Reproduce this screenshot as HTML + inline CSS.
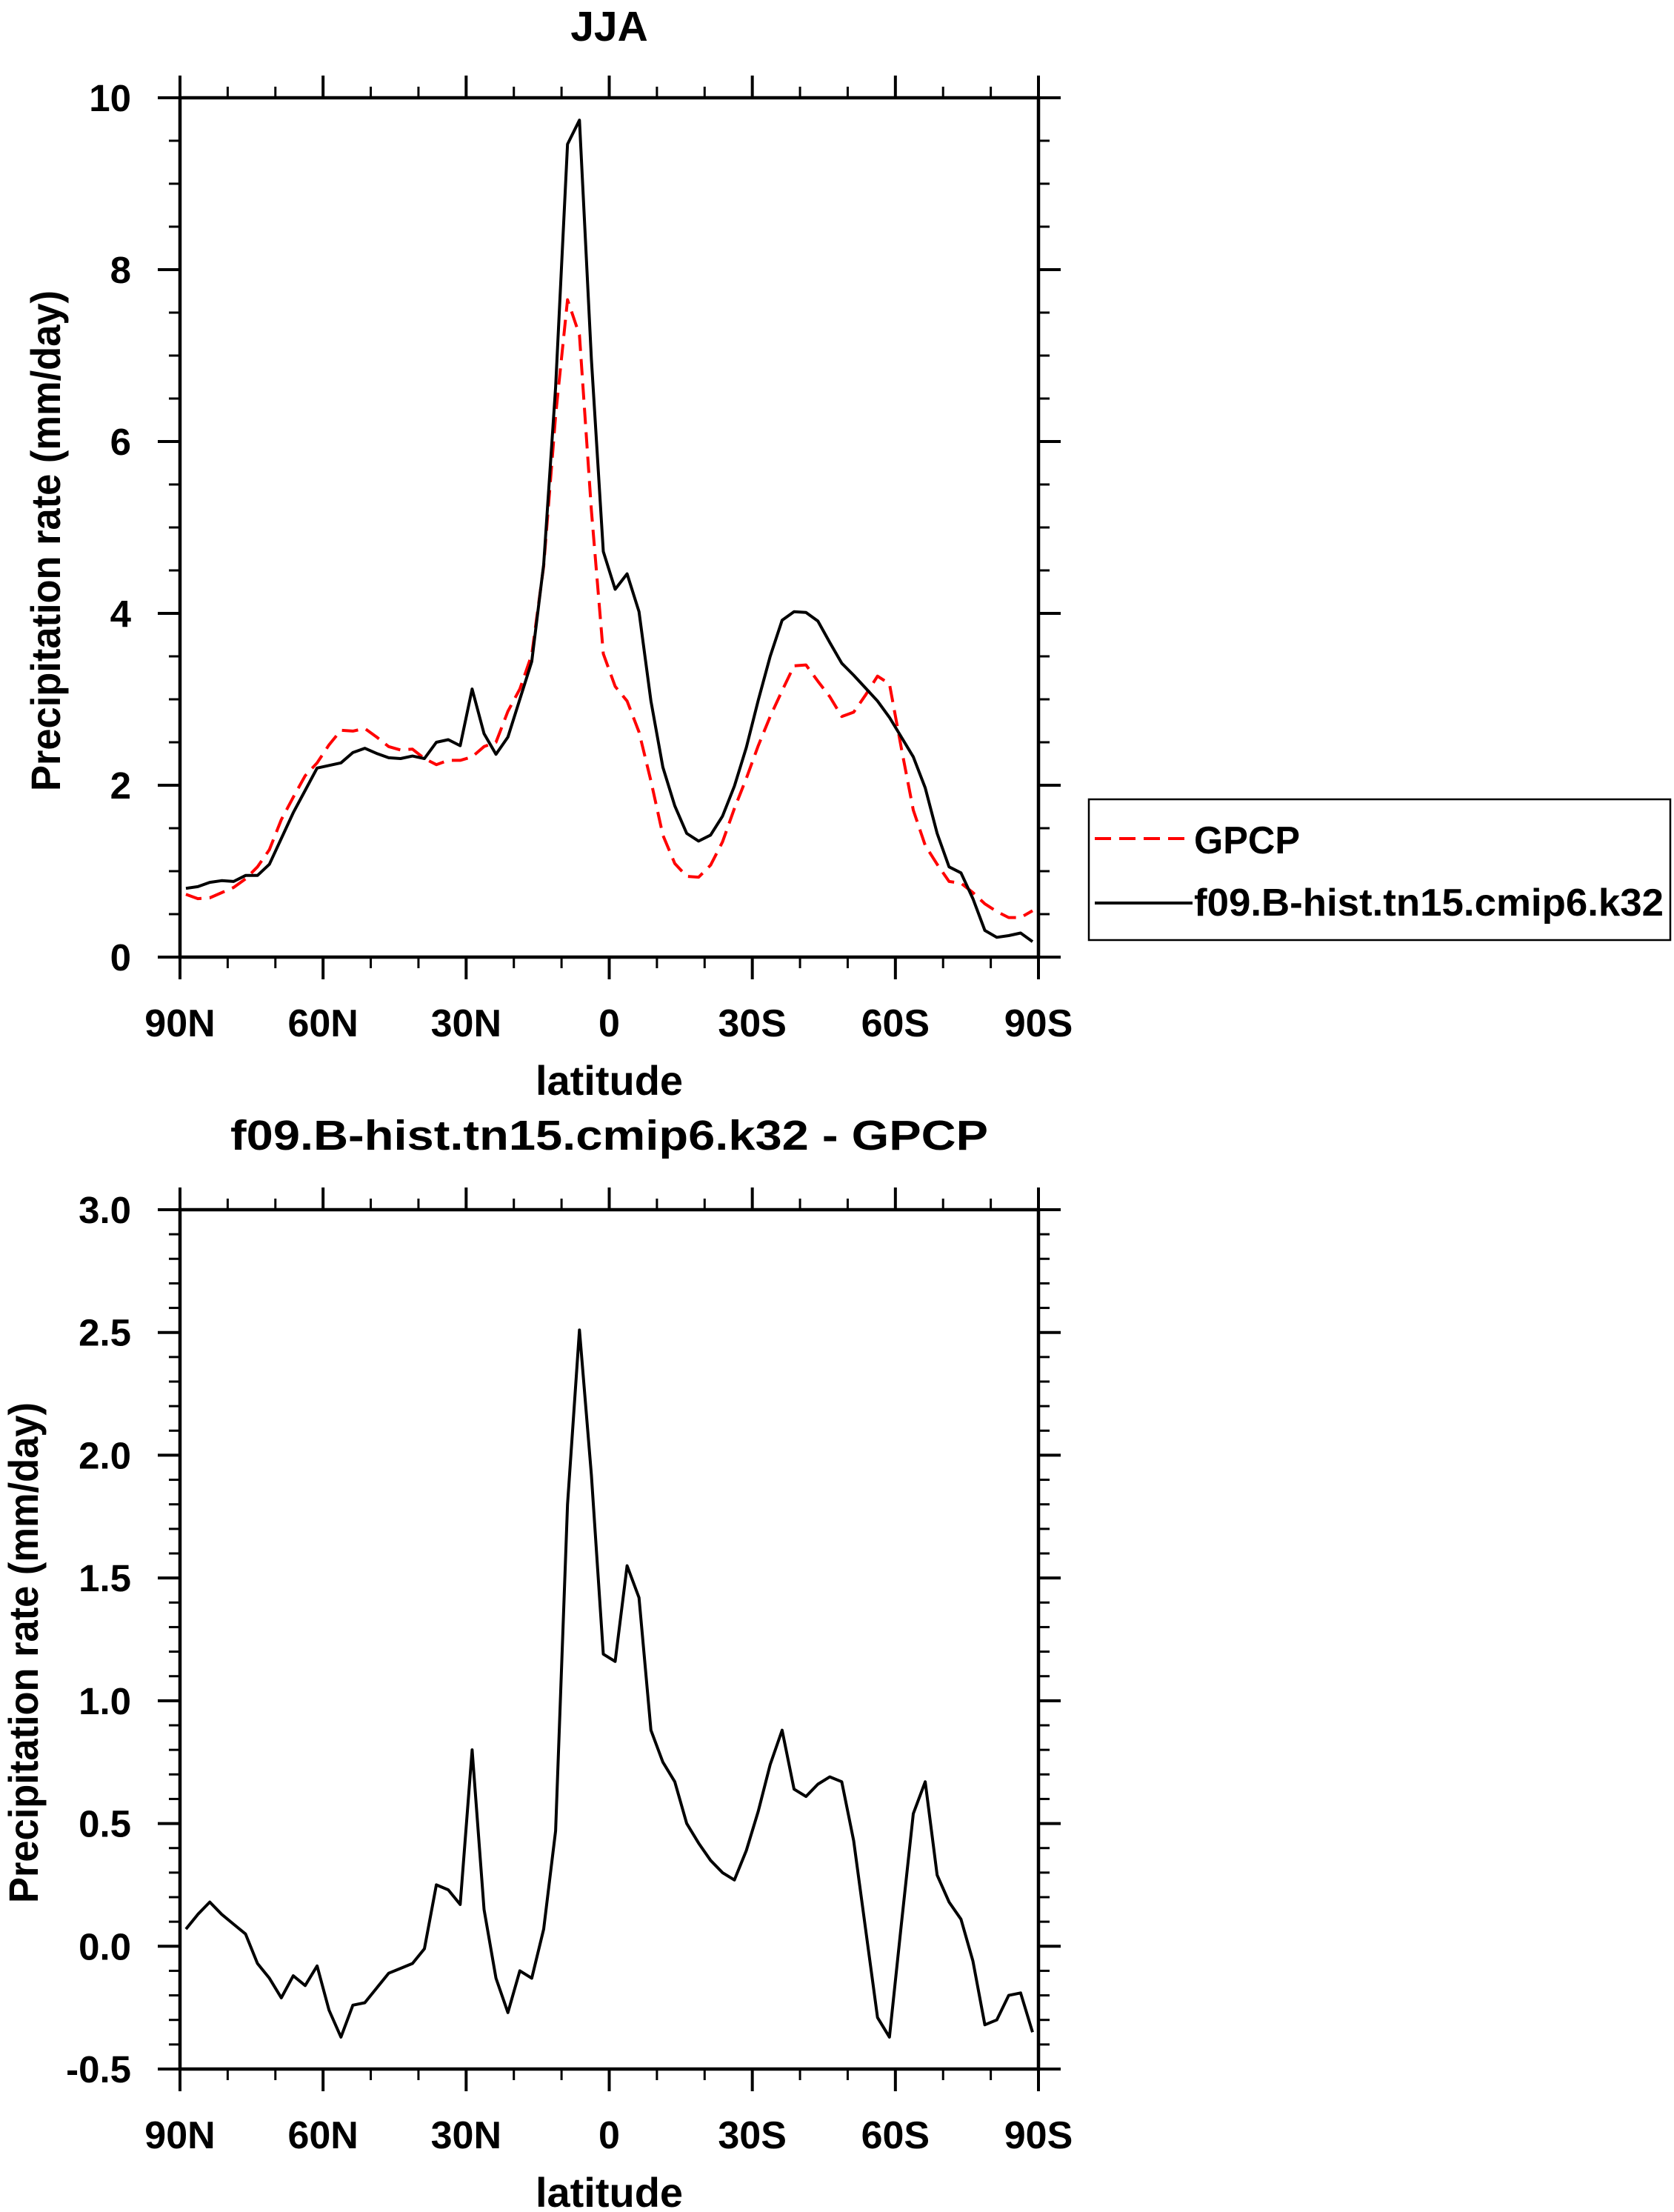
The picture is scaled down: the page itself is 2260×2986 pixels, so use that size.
<!DOCTYPE html>
<html><head><meta charset="utf-8"><style>
html,body{margin:0;padding:0;background:#fff;}
svg{display:block;}
text{font-family:"Liberation Sans",Arial,sans-serif;font-weight:bold;fill:#000;}
</style></head><body>
<svg id="fig" width="2260" height="2986" viewBox="0 0 2260 2986" xmlns="http://www.w3.org/2000/svg">
<g id="p1"></g>
<g id="p2"></g>
<g id="legend">
  <rect x="1470" y="1079" width="785" height="190" fill="none" stroke="#000" stroke-width="2.5"/>
  <line x1="1478" y1="1132" x2="1610" y2="1132" stroke="#ff0000" stroke-width="4" stroke-dasharray="22 11"/>
  <text x="1612" y="1152" font-size="52" textLength="143" lengthAdjust="spacingAndGlyphs">GPCP</text>
  <line x1="1478" y1="1219" x2="1610" y2="1219" stroke="#000" stroke-width="4"/>
  <text x="1612" y="1236" font-size="52" textLength="634" lengthAdjust="spacingAndGlyphs">f09.B-hist.tn15.cmip6.k32</text>
</g>
</svg>
<script>
// latitude of each grid point (deg, N positive), 72 points
const lats = [];
for (let i = 0; i < 72; i++) lats.push(88.75 - 2.5 * i);
const xTickVals = [90, 60, 30, 0, -30, -60, -90];
const xTickLabels = ["90N", "60N", "30N", "0", "30S", "60S", "90S"];
const modelPrecip = [0.80,0.82,0.87,0.89,0.88,0.95,0.95,1.08,1.38,1.68,1.94,2.20,2.23,2.26,2.38,2.43,2.37,2.32,2.31,2.34,2.31,2.50,2.53,2.46,3.12,2.60,2.36,2.56,3.00,3.44,4.57,6.63,9.46,9.74,6.96,4.72,4.28,4.46,4.02,2.98,2.21,1.76,1.44,1.35,1.42,1.64,1.99,2.44,2.99,3.50,3.92,4.02,4.01,3.91,3.66,3.42,3.28,3.13,2.98,2.79,2.56,2.33,1.97,1.44,1.05,0.98,0.68,0.31,0.23,0.25,0.28,0.18];
const gpcpPrecip = [0.73,0.68,0.69,0.75,0.81,0.91,1.05,1.25,1.60,1.86,2.11,2.26,2.47,2.64,2.63,2.66,2.56,2.45,2.41,2.42,2.31,2.24,2.29,2.29,2.33,2.45,2.50,2.86,3.12,3.52,4.55,6.30,7.65,7.24,5.20,3.53,3.15,2.98,2.62,2.05,1.42,1.09,0.94,0.93,1.07,1.34,1.73,2.08,2.46,2.80,3.10,3.39,3.40,3.21,3.03,2.80,2.85,3.05,3.27,3.18,2.43,1.71,1.30,1.08,0.88,0.86,0.75,0.62,0.53,0.46,0.46,0.54];
const diffPrecip = [0.07,0.13,0.18,0.13,0.09,0.05,-0.07,-0.13,-0.21,-0.12,-0.16,-0.08,-0.26,-0.37,-0.24,-0.23,-0.17,-0.11,-0.09,-0.07,-0.01,0.25,0.23,0.17,0.80,0.15,-0.13,-0.27,-0.10,-0.13,0.07,0.47,1.80,2.51,1.92,1.19,1.16,1.55,1.42,0.88,0.75,0.67,0.50,0.42,0.35,0.30,0.27,0.39,0.55,0.74,0.88,0.64,0.61,0.66,0.69,0.67,0.43,0.07,-0.29,-0.37,0.09,0.54,0.67,0.29,0.18,0.11,-0.06,-0.32,-0.30,-0.20,-0.19,-0.35];
const y1TickVals = [0, 2, 4, 6, 8, 10];
const y1TickLabels = ["0", "2", "4", "6", "8", "10"];
const y2TickVals = [-0.5, 0, 0.5, 1, 1.5, 2, 2.5, 3];
const y2TickLabels = ["-0.5", "0.0", "0.5", "1.0", "1.5", "2.0", "2.5", "3.0"];

const NS = "http://www.w3.org/2000/svg";
function mk(parent, tag, attrs, txt) {
  const e = document.createElementNS(NS, tag);
  for (const k in attrs) e.setAttribute(k, attrs[k]);
  if (txt !== undefined) e.textContent = txt;
  parent.appendChild(e);
  return e;
}
const L = 243, R = 1402;
function xs(lat) { return L + (90 - lat) / 180 * (R - L); }

function panel(g, top, bot, ymin, ymax, minorStep, yVals, yLabels, title, ytitleX, titleY, titleLen) {
  const ys = v => bot - (v - ymin) / (ymax - ymin) * (bot - top);
  for (let lat = 90; lat >= -90; lat -= 10) {
    const x = xs(lat);
    const major = lat % 30 === 0;
    const len = major ? 30 : 15;
    const t1 = mk(g, "line", {x1: x, y1: bot, x2: x, y2: bot + len, stroke: "#000", "stroke-width": major ? 4 : 3});
    
    
    const t2 = mk(g, "line", {x1: x, y1: top, x2: x, y2: top - len, stroke: "#000", "stroke-width": major ? 4 : 3});
    
    
  }
  const nMinor = Math.round((ymax - ymin) / minorStep);
  for (let k = 0; k <= nMinor; k++) {
    const v = ymin + k * minorStep;
    const y = ys(v);
    const t1 = mk(g, "line", {x1: L, y1: y, x2: L - 15, y2: y, stroke: "#000", "stroke-width": 3});
    
    
    const t2 = mk(g, "line", {x1: R, y1: y, x2: R + 15, y2: y, stroke: "#000", "stroke-width": 3});
    
    
  }
  yVals.forEach((v, i) => {
    const y = ys(v);
    const t1 = mk(g, "line", {x1: L, y1: y, x2: L - 30, y2: y, stroke: "#000", "stroke-width": 4});
    
    
    const t2 = mk(g, "line", {x1: R, y1: y, x2: R + 30, y2: y, stroke: "#000", "stroke-width": 4});
    
    
    const lab = mk(g, "text", {x: 177, y: y + 18, "font-size": 51, "text-anchor": "end"}, yLabels[i]);
    
    
  });
  xTickVals.forEach((v, i) => {
    const lab = mk(g, "text", {x: xs(v), y: bot + 107, "font-size": 52, "text-anchor": "middle"}, xTickLabels[i]);
    
    
  });
  const frame = mk(g, "rect", {x: L, y: top, width: R - L, height: bot - top, fill: "none", stroke: "#000", "stroke-width": 4.5});
  
  
  const xt = mk(g, "text", {x: (L + R) / 2, y: bot + 186, "font-size": 56, "text-anchor": "middle"}, "latitude");
  
  
  const cy = (top + bot) / 2 + 18;
  const yt = mk(g, "text", {x: 0, y: 0, "font-size": 56, "text-anchor": "middle", textLength: 676, lengthAdjust: "spacingAndGlyphs", transform: `translate(${ytitleX},${cy}) rotate(-90)`}, "Precipitation rate (mm/day)");
  
  
  const tt = mk(g, "text", {x: (L + R) / 2, y: titleY, "font-size": 57, "text-anchor": "middle"}, title);
  if (titleLen) { tt.setAttribute("textLength", titleLen); tt.setAttribute("lengthAdjust", "spacingAndGlyphs"); }
  
  
  return ys;
}

const g1 = document.getElementById("p1");
const ys1 = panel(g1, 132, 1292, 0, 10, 0.5, y1TickVals, y1TickLabels, "JJA", 81, 55, 0);
const g2 = document.getElementById("p2");
const ys2 = panel(g2, 1633, 2793, -0.5, 3.0, 0.1, y2TickVals, y2TickLabels, "f09.B-hist.tn15.cmip6.k32 - GPCP", 51, 1552, 1023);

function pts(vals, ys) { return vals.map((v, i) => xs(lats[i]).toFixed(1) + "," + ys(v).toFixed(1)).join(" "); }
const gp = mk(g1, "polyline", {points: pts(gpcpPrecip, ys1), fill: "none", stroke: "#ff0000", "stroke-width": 4, "stroke-dasharray": "22 11", "stroke-linejoin": "round"});


const md = mk(g1, "polyline", {points: pts(modelPrecip, ys1), fill: "none", stroke: "#000", "stroke-width": 4, "stroke-linejoin": "round"});


const df = mk(g2, "polyline", {points: pts(diffPrecip, ys2), fill: "none", stroke: "#000", "stroke-width": 4, "stroke-linejoin": "round"});


</script>
</body></html>
